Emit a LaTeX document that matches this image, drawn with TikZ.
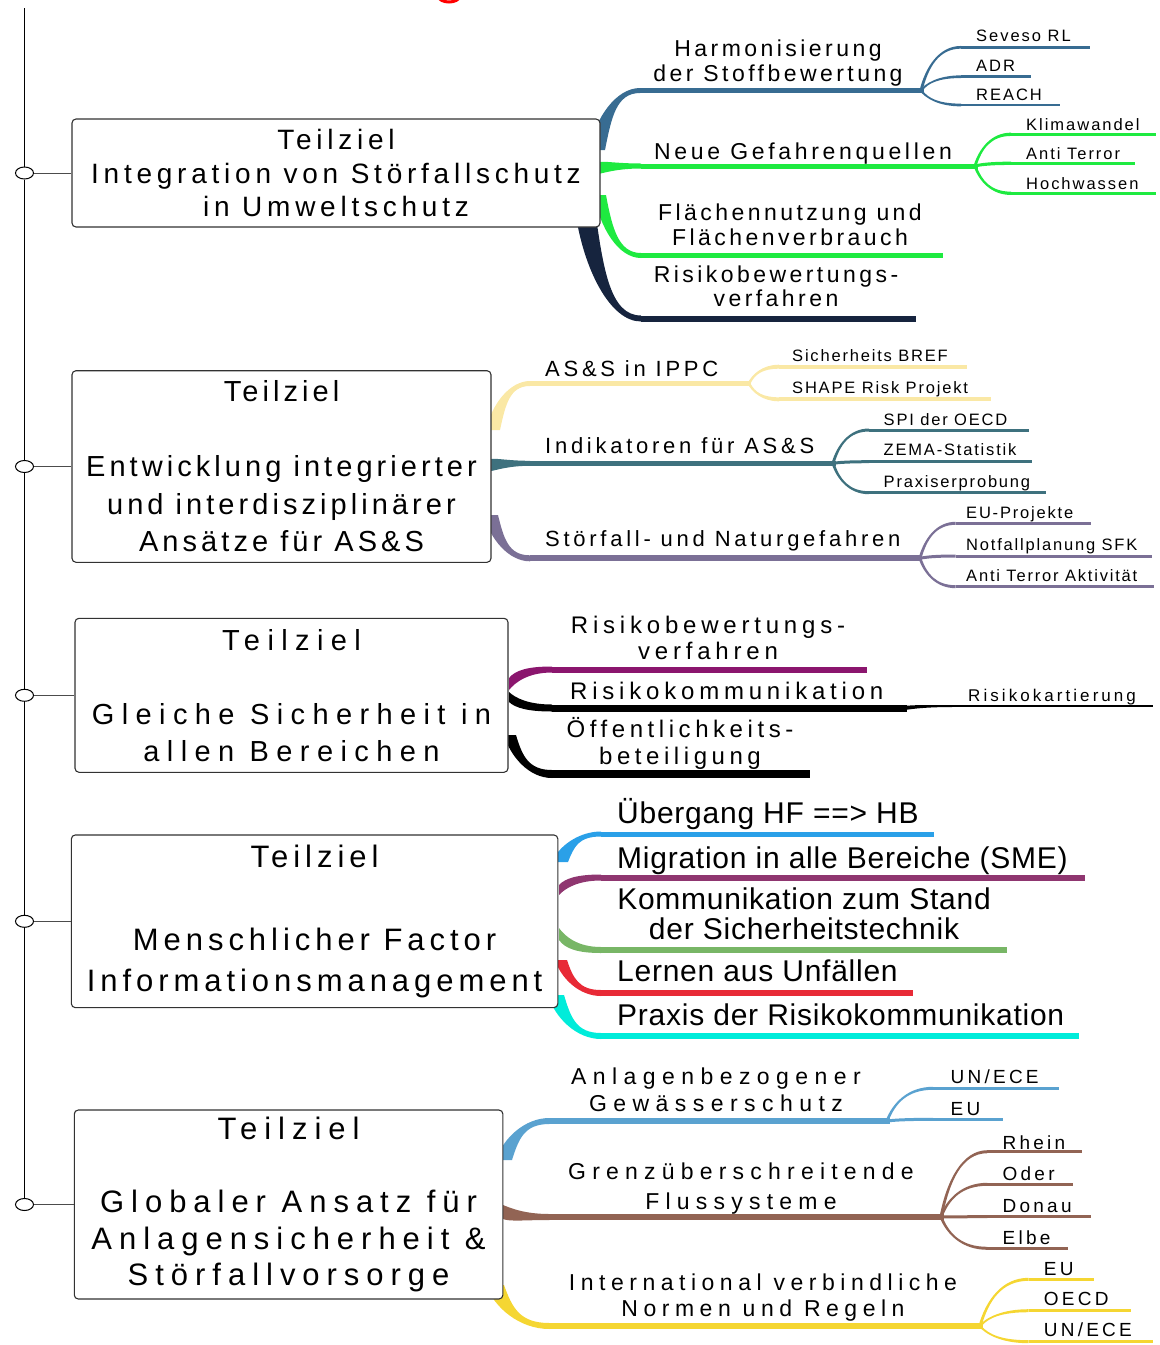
\documentclass[tikz,border=0pt]{standalone}
\usepackage{fontspec}
\setmainfont{Liberation Sans}
\usetikzlibrary{calc,shapes.geometric}

\definecolor{cSteel}{RGB}{56,108,146}
\definecolor{cLime}{RGB}{30,234,64}
\definecolor{cNavy}{RGB}{22,36,62}
\definecolor{cCream}{RGB}{250,232,165}
\definecolor{cTeal}{RGB}{62,113,126}
\definecolor{cLilac}{RGB}{123,112,150}
\definecolor{cPlum}{RGB}{139,22,110}
\definecolor{cSky}{RGB}{42,160,232}
\definecolor{cMauve}{RGB}{143,54,112}
\definecolor{cSage}{RGB}{120,182,102}
\definecolor{cRed}{RGB}{232,42,54}
\definecolor{cCyan}{RGB}{0,236,218}
\definecolor{cAzure}{RGB}{90,162,208}
\definecolor{cBrown}{RGB}{146,100,84}
\definecolor{cGold}{RGB}{245,214,50}
\definecolor{cFrame}{RGB}{50,50,50}

% font size, baseline skip, letter spacing (percent of the size)
\newcommand\txt[3]{\fontsize{#1}{#2}\selectfont\addfontfeature{LetterSpace=#3}}

% tapered band: #1 colour, #2 start, #3 end, #4 half-width offset at start, #5 end thickness
\newcommand\organic[5]{%
  \fill[#1] let \p1=(#2), \p2=(#3), \p3=(#4),
                \n1={\x2-\x1}, \n2={\y2-\y1}, \n3={#5/2} in
    ({\x1-(\x3)},{\y1-(\y3)})
      .. controls ({\x1-(\x3)+0.15*\n1},{\y1-(\y3)+0.55*\n2})
             and ({\x1+0.45*\n1},{\y2+\n3}) .. (\x2,{\y2+\n3})
    -- (\x2,{\y2-\n3})
      .. controls ({\x1+0.45*\n1},{\y2-\n3})
             and ({\x1+(\x3)+0.15*\n1},{\y1+(\y3)+0.55*\n2}) .. ({\x1+(\x3)},{\y1+(\y3)})
    -- cycle;
}

% branch: #1 name, #2 colour, #3 start, #4 start offset, #5 bend end, #6 line end, #7 thickness
\newcommand\branch[7]{%
  \coordinate (#1-s) at (#3);
  \coordinate (#1-j) at (#5);
  \coordinate (#1-e) at (#6);
  \organic{#2}{#1-s}{#1-j}{#4}{#7}
  \draw[#2, line width=#7pt] (#1-j) -- (#1-e);
}

\tikzset{
  tbox/.style={draw=cFrame, line width=1.1pt, fill=white, rounded corners=4pt,
               inner sep=0pt, align=center},
  lab/.style={inner sep=0pt, align=center},
  pinmark/.style={ellipse, draw=black, line width=1pt, fill=white,
                  minimum width=18pt, minimum height=12pt, inner sep=0pt},
  spine/.style={black, line width=1.3pt},
  stub/.style={draw=black!70, line width=1pt}
}

\begin{document}
\begin{tikzpicture}[x=1pt,y=-1pt]
\useasboundingbox (0,0) rectangle (1160,1345);

% red mark cut by the upper edge
\begin{scope}
  \clip (0,0) rectangle (1160,1345);
  \draw[red, line width=3pt] (449,-3) ellipse [x radius=10, y radius=5];
\end{scope}

% ---------- branches of goal 1 ----------
\branch{hs}{cSteel}{597,150}{8,0}{640,90.5}{924,90.5}{5}
\branch{sev}{cSteel}{921,90.5}{1.5,0}{961,47.3}{1090,47.3}{2.7}
\branch{adr}{cSteel}{921,90.5}{1.5,0}{961,76.7}{1031,76.7}{2.7}
\branch{rea}{cSteel}{921,90.5}{-1.5,0}{961,105}{1060,105}{2.7}
\branch{ng}{cLime}{598,168}{0,6}{641,166}{978,166}{5}
\branch{kli}{cLime}{975,166}{1.5,0}{1011,134.3}{1156,134.3}{3.3}
\branch{ant}{cLime}{975,166}{0,1.5}{1011,163.3}{1135,163.3}{3.3}
\branch{hoc}{cLime}{975,166}{-1.5,0}{1011,193.3}{1156,193.3}{3.3}
\branch{fl}{cLime}{600,195}{-6,0}{641,255.5}{943,255.5}{5}
\branch{rb}{cNavy}{585,210}{-10,0}{641,318.5}{916,318.5}{6}

% ---------- branches of goal 2 ----------
\branch{ai}{cCream}{493,430}{7,0}{530,383.5}{751,383.5}{5}
\branch{sb}{cCream}{749,383.5}{1.5,0}{779,366.7}{966.5,366.7}{4}
\branch{sh}{cCream}{749,383.5}{-1.5,0}{779,399.3}{990.8,399.3}{4}
\branch{ind}{cTeal}{491,465}{0,6}{530,463.3}{835.6,463.3}{5}
\branch{spi}{cTeal}{833,463.3}{1.5,0}{869,430}{1028.6,430}{3}
\branch{zem}{cTeal}{833,463.3}{0,1.5}{869,461.7}{1031.6,461.7}{3}
\branch{pra}{cTeal}{833,463.3}{-1.5,0}{869,492.7}{1046,492.7}{3}
\branch{sn}{cLilac}{491,515}{-7,0}{530,558.3}{922.3,558.3}{6}
\branch{eup}{cLilac}{920,558.3}{1.5,0}{955.7,523.3}{1090.6,523.3}{3}
\branch{nfp}{cLilac}{920,558.3}{0,1.5}{955.7,556}{1152,556}{3}
\branch{ata}{cLilac}{920,558.3}{-1.5,0}{955.7,586.7}{1154,586.7}{3}

% ---------- branches of goal 3 ----------
\branch{rv}{cPlum}{509,684}{0,6}{552,669.5}{866.8,669.5}{6}
\branch{rk}{black}{509,697}{0,5}{552,708}{907,708}{7}
\branch{rkt}{black}{905,708}{0,2}{952,706}{1153,706}{2}
\branch{ob}{black}{510,735}{-6,0}{552,774}{810.4,774}{8}

% ---------- branches of goal 4 ----------
\branch{ub}{cSky}{560,862}{8,0}{601,834}{933.6,834}{5}
\branch{mi}{cMauve}{559,890}{0,5}{601,877.5}{1084.6,877.5}{6}
\branch{ks}{cSage}{559,934}{0,6}{601,950}{1007,950}{6}
\branch{lu}{cRed}{561,960}{-6,0}{601,993}{913.2,993}{6}
\branch{pr}{cCyan}{556,995}{-8,0}{601,1036}{1078.6,1036}{6}

% ---------- branches of goal 5 ----------
\branch{ag}{cAzure}{504,1160}{8,0}{549.4,1121}{889.8,1121}{6}
\branch{une}{cAzure}{887,1121}{1.5,0}{933,1088.3}{1059,1088.3}{3}
\branch{eua}{cAzure}{887,1121}{0,1.5}{933,1119.3}{1002.6,1119.3}{3}
\branch{gf}{cBrown}{503,1212}{0,7}{549.4,1217}{944,1217}{6}
\branch{rh}{cBrown}{941,1217}{1.5,0}{987.4,1151.7}{1082,1151.7}{3}
\branch{od}{cBrown}{941,1217}{1.5,0}{987.4,1184.3}{1073,1184.3}{3}
\branch{dn}{cBrown}{941,1217}{0,1.5}{987.4,1216.7}{1091.4,1216.7}{3}
\branch{el}{cBrown}{941,1217}{-1.5,0}{987.4,1248.3}{1067.6,1248.3}{3}
\branch{inv}{cGold}{495,1285}{-9,0}{549.4,1326}{983,1326}{6}
\branch{eui}{cGold}{980,1326}{1.5,0}{1028.6,1279.3}{1093.6,1279.3}{3}
\branch{oe}{cGold}{980,1326}{1.5,0}{1028.6,1310.7}{1131.3,1310.7}{3}
\branch{unf}{cGold}{980,1326}{-1.5,0}{1028.6,1341.7}{1153,1341.7}{3}

% ---------- goal boxes ----------
\node[tbox, minimum width=528, minimum height=108, font={\txt{28}{33.7}{17}}]
  (g1) at (336,173) {Teilziel\\Integration von Störfallschutz\\in Umweltschutz};
\node[tbox, minimum width=419, minimum height=191.6, font={\txt{29}{37.5}{14}}]
  (g2) at (281.5,466.5) {Teilziel\\[37.5pt]Entwicklung integrierter\\und interdisziplinärer\\Ansätze für AS\&S};
\node[tbox, minimum width=433, minimum height=154, font={\txt{29}{37}{25.5}}]
  (g3) at (291.5,695.3) {Teilziel\\[37pt]Gleiche Sicherheit in\\allen Bereichen};
\node[tbox, minimum width=486.5, minimum height=172.7, font={\txt{31}{41.5}{16}}]
  (g4) at (314.6,921.3) {Teilziel\\[41.5pt]Menschlicher Factor\\Informationsmanagement};
\node[tbox, minimum width=428.6, minimum height=189, font={\txt{31}{36.7}{22.5}}]
  (g5) at (288.6,1204.5) {Teilziel\\[36.7pt]Globaler Ansatz für\\Anlagensicherheit \&\\Störfallvorsorge};

% ---------- spine with pins ----------
\coordinate (top) at (24.5,8);
\node[pinmark] (p1) at (24.5,173) {};
\node[pinmark] (p2) at (24.5,466.5) {};
\node[pinmark] (p3) at (24.5,695.3) {};
\node[pinmark] (p4) at (24.5,921.3) {};
\node[pinmark] (p5) at (24.5,1204.5) {};
\draw[spine] (top) -- (p1.north) (p1.south) -- (p2.north) (p2.south) -- (p3.north)
             (p3.south) -- (p4.north) (p4.south) -- (p5.north);
\foreach \i in {1,...,5} {\draw[stub] (p\i.east) -- (g\i.west);}

% ---------- labels of goal 1 ----------
\node[lab, font={\txt{23}{25}{15}}] (l-hs) at (778,63.5) {Harmonisierung\\der Stoffbewertung};
\node[lab, anchor=base west, font={\txt{23}{25}{16}}] (l-ng) at (654,159) {Neue Gefahrenquellen};
\node[lab, font={\txt{23}{25}{15}}] (l-fl) at (790,225.2) {Flächennutzung und\\Flächenverbrauch};
\node[lab, font={\txt{23}{24}{15}}] (l-rb) at (776,286.6) {Risikobewertungs-\\verfahren};
\begin{scope}[every node/.style={lab, anchor=base west, font={\txt{16.5}{18}{12}}}]
  \node (t-sev) at (976,41.7) {Seveso RL};
  \node (t-adr) at (976,71.7) {ADR};
  \node (t-rea) at (976,100) {REACH};
  \node (t-kli) at (1026,130) {Klimawandel};
  \node (t-ant) at (1026,159.3) {Anti Terror};
  \node (t-hoc) at (1026,189.3) {Hochwassen};
\end{scope}

% ---------- labels of goal 2 ----------
\begin{scope}[every node/.style={lab, anchor=base west, font={\txt{22}{24}{17}}}]
  \node (l-ai) at (545,376) {AS\&S in IPPC};
  \node (l-ind) at (545,453) {Indikatoren für AS\&S};
  \node (l-sn) at (545,546.7) {Störfall- und Naturgefahren};
\end{scope}
\begin{scope}[every node/.style={lab, anchor=base west, font={\txt{16.5}{18}{11}}}]
  \node (t-sb) at (792,361.7) {Sicherheits BREF};
  \node (t-sh) at (792,393.3) {SHAPE Risk Projekt};
  \node (t-spi) at (883.5,425) {SPI der OECD};
  \node (t-zem) at (883.5,455) {ZEMA-Statistik};
  \node (t-pra) at (883.5,487.3) {Praxiserprobung};
  \node (t-eup) at (966,518.3) {EU-Projekte};
  \node (t-nfp) at (966,550) {Notfallplanung SFK};
  \node (t-ata) at (966,581.7) {Anti Terror Aktivität};
\end{scope}

% ---------- labels of goal 3 ----------
\node[lab, font={\txt{24}{26}{20}}] (l-rv) at (708,637.5) {Risikobewertungs-\\verfahren};
\node[lab, anchor=base west, font={\txt{24}{26}{20}}] (l-rk) at (570,699) {Risikokommunikation};
\node[lab, font={\txt{24}{27.4}{19}}] (l-ob) at (680,743.7) {Öffentlichkeits-\\beteiligung};
\node[lab, anchor=base west, font={\txt{17}{19}{18}}] (t-rkt) at (968,701.7) {Risikokartierung};

% ---------- labels of goal 4 ----------
\begin{scope}[every node/.style={lab, anchor=base west, font={\txt{30}{30}{2.5}}}]
  \node (l-ub) at (617,823.3) {Übergang HF ==> HB};
  \node (l-mi) at (617,868.3) {Migration in alle Bereiche (SME)};
  \node (l-lu) at (617,981.7) {Lernen aus Unfällen};
  \node (l-pr) at (617,1025) {Praxis der Risikokommunikation};
\end{scope}
\node[lab, font={\txt{30}{30}{2.5}}] (l-ks) at (804,914) {Kommunikation zum Stand\\der Sicherheitstechnik};

% ---------- labels of goal 5 ----------
\node[lab, font={\txt{23}{26.7}{28}}] (l-ag) at (716,1090) {Anlagenbezogener\\Gewässerschutz};
\node[lab, font={\txt{23}{29.3}{27}}] (l-gf) at (741,1188.6) {Grenzüberschreitende\\Flussysteme};
\node[lab, font={\txt{23}{26}{24}}] (l-inv) at (763,1297.7) {International verbindliche\\Normen und Regeln};
\begin{scope}[every node/.style={lab, anchor=base west, font={\txt{19}{21}{17}}}]
  \node (t-une) at (950.5,1083.3) {UN/ECE};
  \node (t-eua) at (950.5,1115) {EU};
  \node (t-rh) at (1002.5,1149.3) {Rhein};
  \node (t-od) at (1002.5,1180.7) {Oder};
  \node (t-dn) at (1002.5,1212.3) {Donau};
  \node (t-el) at (1002.5,1244) {Elbe};
  \node (t-eui) at (1043.7,1275) {EU};
  \node (t-oe) at (1043.7,1305) {OECD};
  \node (t-unf) at (1043.7,1336) {UN/ECE};
\end{scope}
\end{tikzpicture}
\end{document}
